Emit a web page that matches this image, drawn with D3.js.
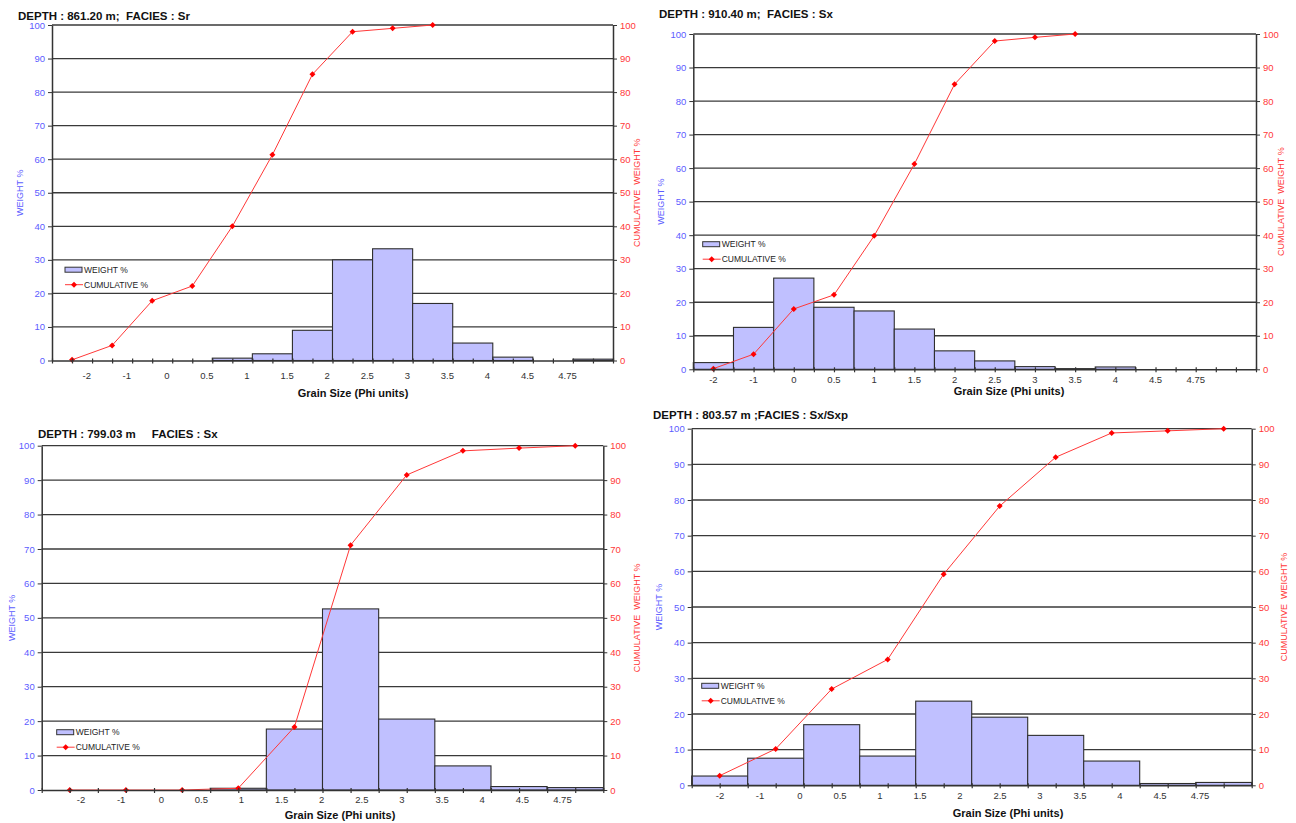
<!DOCTYPE html>
<html>
<head>
<script src="https://d3js.org/d3.v7.min.js"></script>
<style>
  html, body { margin: 0; padding: 0; background: #fff; }
  svg { display: block; font-family: Arial, "Liberation Sans", sans-serif; }
  text { white-space: pre; }
</style>
</head>
<body>
<svg id="chart" width="1296" height="823"></svg>
<script>
// grain size classes (phi) shown under each x axis, last slot left blank
var phiLabels = ["-2", "-1", "0", "0.5", "1", "1.5", "2", "2.5", "3", "3.5", "4", "4.5", "4.75"];
var titles = [
  "DEPTH : 861.20 m;  FACIES : Sr",
  "DEPTH : 910.40 m;  FACIES : Sx",
  "DEPTH : 799.03 m     FACIES : Sx",
  "DEPTH : 803.57 m ;FACIES : Sx/Sxp"
];
var yTicks = [0, 10, 20, 30, 40, 50, 60, 70, 80, 90, 100];

// weight % per class and cumulative weight %
var weight861 = [0, 0, 0, 0, 0.7, 2, 9, 30, 33.3, 17, 5.2, 1, 0, 0.4];
var cumul861  = [0.2, 4.5, 17.8, 22.2, 40, 61.3, 85.3, 98, 99, 100];

var weight910 = [2, 12.5, 27.2, 18.5, 17.4, 12, 5.5, 2.5, 0.8, 0.2, 0.7, 0, 0, 0];
var cumul910  = [0.2, 4.5, 18, 22.2, 39.8, 61.2, 85, 97.9, 99, 100];

var weight799 = [0, 0, 0, 0.5, 17.7, 52.6, 20.6, 7, 1, 0.7];
var cumul799  = [0, 0, 0, 0.5, 18.3, 71.1, 91.5, 98.5, 99.3, 100];

var weight803 = [2.6, 7.6, 17, 8.2, 23.6, 19.1, 14, 6.8, 0.5, 0.8];
var cumul803  = [2.7, 10.2, 27, 35.3, 59.2, 78.3, 92, 98.8, 99.4, 100];

var BAR_FILL = "#c0c0ff", BLUE = "#5c5cff", RED = "#ff3838", GRID = "#3a3a3a";

// layout of the four panels (pixels)
var panels = [
  {title: titles[0], weight: weight861, cumul: cumul861,
   left: 52, right: 613, top: 25, bottom: 360.5, labelDx: 14.7,
   titleX: 18, titleY: 20, xTitleX: 353, xTitleY: 397, labY: 379,
   yTitleLX: 20, yTitleRX: 637, legX: 65, legY: 269.7},
  {title: titles[1], weight: weight910, cumul: cumul910,
   left: 693.3, right: 1256, top: 34, bottom: 369.3, labelDx: 0,
   titleX: 659, titleY: 17.5, xTitleX: 1009, xTitleY: 395, labY: 383,
   yTitleLX: 661, yTitleRX: 1281, legX: 702.7, legY: 244.2},
  {title: titles[2], weight: weight799, cumul: cumul799,
   left: 41.7, right: 603.3, top: 445.7, bottom: 790, labelDx: 19.3,
   titleX: 38, titleY: 437.5, xTitleX: 340, xTitleY: 819, labY: 803,
   yTitleLX: 12, yTitleRX: 637, legX: 56.7, legY: 732.2},
  {title: titles[3], weight: weight803, cumul: cumul803,
   left: 691.7, right: 1251.7, top: 428.7, bottom: 785.3, labelDx: 8.3,
   titleX: 653, titleY: 418.5, xTitleX: 1008, xTitleY: 817, labY: 799,
   yTitleLX: 659, yTitleRX: 1284, legX: 701.7, legY: 685.8}
];

var svg = d3.select("#chart");
svg.append("rect").attr("width", 1296).attr("height", 823).attr("fill", "#fff");

var marker = d3.symbol().type(d3.symbolSquare).size(18);

panels.forEach(function(p) {
  var g = svg.append("g");
  var n = p.weight.length;

  var yL = d3.scaleLinear().domain([0, 100]).range([p.bottom, p.top]);
  var yR = d3.scaleLinear().domain([0, 100]).range([p.bottom, p.top]);
  var x = d3.scaleBand().domain(d3.range(n)).range([p.left, p.right]);
  var xLab = d3.scaleBand().domain(d3.range(14)).range([p.left, p.right]);
  var xTick = d3.scaleLinear().domain([0, n]).range([p.left, p.right]);

  // horizontal grid
  g.append("g").selectAll("line")
    .data(yTicks.slice(1))
    .enter().append("line")
    .attr("x1", p.left).attr("x2", p.right)
    .attr("y1", function(d) { return yL(d); })
    .attr("y2", function(d) { return yL(d); })
    .attr("stroke", GRID).attr("stroke-width", 1.3);

  // weight % bars (empty classes draw nothing)
  var bars = p.weight.map(function(v, i) { return {v: v, i: i}; })
    .filter(function(d) { return d.v > 0; });
  g.append("g").selectAll("rect")
    .data(bars)
    .enter().append("rect")
    .attr("x", function(d) { return x(d.i); })
    .attr("y", function(d) { return yL(d.v); })
    .attr("width", x.bandwidth())
    .attr("height", function(d) { return p.bottom - yL(d.v); })
    .attr("fill", BAR_FILL).attr("stroke", "#2e2e2e").attr("stroke-width", 1.1);

  // cumulative line
  var line = d3.line()
    .x(function(d, i) { return x(i) + x.bandwidth() / 2; })
    .y(function(d) { return yR(d); });
  g.append("path").datum(p.cumul)
    .attr("d", line)
    .attr("fill", "none").attr("stroke", RED).attr("stroke-width", 1);
  g.append("g").selectAll("path")
    .data(p.cumul)
    .enter().append("path")
    .attr("d", marker)
    .attr("transform", function(d, i) {
      return "translate(" + (x(i) + x.bandwidth() / 2) + "," + yR(d) + ") rotate(45)";
    })
    .attr("fill", "#ff0000");

  // left axis
  var ax = g.append("g").attr("transform", "translate(" + p.left + ",0)")
    .call(d3.axisLeft(yL).tickValues(yTicks).tickSize(4).tickSizeOuter(0).tickPadding(3));
  ax.select(".domain").attr("stroke", "#333").attr("stroke-width", 1.5);
  ax.selectAll(".tick line").attr("stroke", "#333");
  ax.selectAll(".tick text").attr("fill", BLUE).attr("font-size", 9.5)
    .attr("font-family", "Arial, 'Liberation Sans', sans-serif");

  // right axis
  var ar = g.append("g").attr("transform", "translate(" + p.right + ",0)")
    .call(d3.axisRight(yR).tickValues(yTicks).tickSize(4).tickSizeOuter(0).tickPadding(3));
  ar.select(".domain").attr("stroke", "#333").attr("stroke-width", 1.5);
  ar.selectAll(".tick line").attr("stroke", "#333");
  ar.selectAll(".tick text").attr("fill", RED).attr("font-size", 9.5)
    .attr("font-family", "Arial, 'Liberation Sans', sans-serif");

  // bottom axis with half-class tick marks
  var ab = g.append("g").attr("transform", "translate(0," + p.bottom + ")")
    .call(d3.axisBottom(xTick).tickValues(d3.range(0, n + 0.25, 0.5)).tickFormat("").tickSize(3).tickSizeOuter(0));
  ab.select(".domain").attr("stroke", "#333").attr("stroke-width", 1.5);
  ab.selectAll(".tick line").attr("stroke", "#333").attr("stroke-width", 1.2).attr("y1", -2);

  g.append("g").selectAll("text")
    .data(phiLabels)
    .enter().append("text")
    .attr("x", function(d, i) { return xLab(i) + xLab.bandwidth() / 2 + p.labelDx; })
    .attr("y", p.labY)
    .attr("text-anchor", "middle")
    .attr("font-size", 9.5).attr("fill", "#333")
    .text(function(d) { return d; });

  // titles
  g.append("text").attr("x", p.titleX).attr("y", p.titleY)
    .attr("font-size", 11.5).attr("font-weight", "bold").attr("fill", "#111")
    .text(p.title);
  g.append("text").attr("x", p.xTitleX).attr("y", p.xTitleY)
    .attr("text-anchor", "middle")
    .attr("font-size", 11).attr("font-weight", "bold").attr("fill", "#111")
    .text("Grain Size (Phi units)");

  var midY = (p.top + p.bottom) / 2;
  g.append("text")
    .attr("transform", "translate(" + p.yTitleLX + "," + midY + ") rotate(-90)")
    .attr("text-anchor", "middle").attr("dy", "0.35em")
    .attr("font-size", 9).attr("fill", BLUE)
    .text("WEIGHT %");
  g.append("text")
    .attr("transform", "translate(" + p.yTitleRX + "," + midY + ") rotate(-90)")
    .attr("text-anchor", "middle").attr("dy", "0.35em")
    .attr("font-size", 9).attr("fill", RED)
    .text("CUMULATIVE  WEIGHT %");

  // legend
  var lg = g.append("g").attr("transform", "translate(" + p.legX + "," + p.legY + ")");
  lg.append("rect").attr("x", 0).attr("y", -2.5).attr("width", 17).attr("height", 5)
    .attr("fill", BAR_FILL).attr("stroke", "#333").attr("stroke-width", 1);
  lg.append("text").attr("x", 19).attr("y", 3).attr("font-size", 8.5).attr("fill", "#222")
    .text("WEIGHT %");
  lg.append("line").attr("x1", 0).attr("x2", 18).attr("y1", 15).attr("y2", 15)
    .attr("stroke", RED).attr("stroke-width", 1);
  lg.append("path").attr("d", marker)
    .attr("transform", "translate(9,15) rotate(45)").attr("fill", "#ff0000");
  lg.append("text").attr("x", 19).attr("y", 18).attr("font-size", 8.5).attr("fill", "#222")
    .text("CUMULATIVE %");
});
</script>
</body>
</html>
